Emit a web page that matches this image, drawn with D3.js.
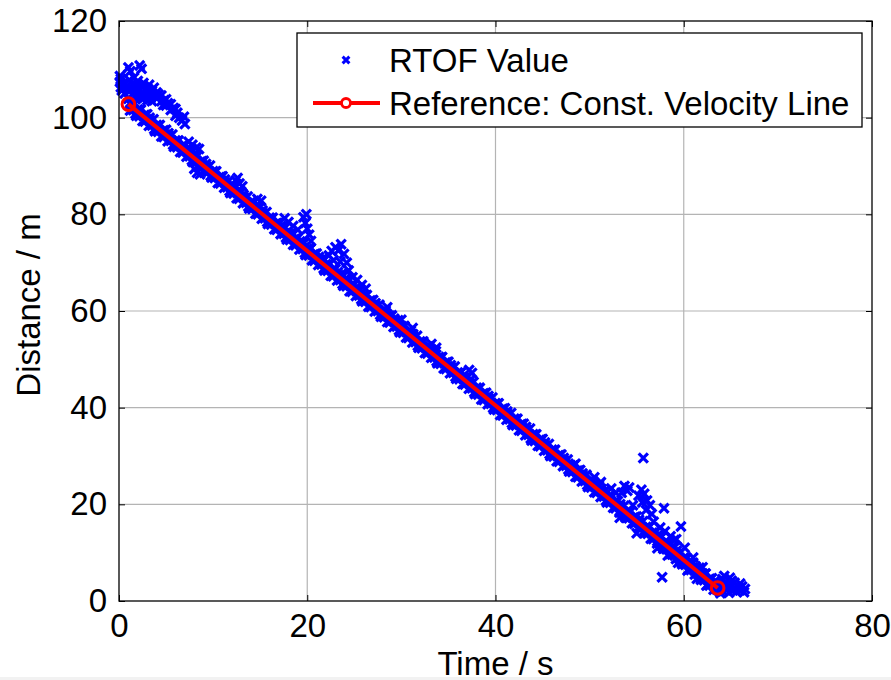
<!DOCTYPE html>
<html><head><meta charset="utf-8">
<script src="https://cdn.jsdelivr.net/npm/d3@7"></script>
<style>html,body{margin:0;padding:0;background:#fff;overflow:hidden}</style>
</head><body>
<svg id="chart" width="891" height="680"></svg>
<script>
const xTicks = [0, 20, 40, 60, 80];
const yTicks = [0, 20, 40, 60, 80, 100, 120];
const xLabel = "Time / s";
const yLabel = "Distance / m";
const legendLabels = ["RTOF Value", "Reference: Const. Velocity Line"];
const referenceLine = [[1.0, 102.8], [63.6, 2.7]];

const rtofBand = [
[1,103.9],[1.17,101.5],[1.33,102.6],[1.5,101.6],[1.67,102.9],[1.83,100.4],[2,101.7],[2.17,100.3],[2.33,101.7],[2.5,99.3],[2.67,100.5],[2.83,100.6],
[3,100.7],[3.17,98.3],[3.33,99.4],[3.5,98.4],[3.67,99.7],[3.83,97.2],[4,98.5],[4.17,97.1],[4.33,98.5],[4.5,96.1],[4.67,97.3],[4.83,97.4],
[5,97.5],[5.17,95.1],[5.33,96.2],[5.5,95.2],[5.67,96.5],[5.83,94.0],[6,95.3],[6.17,93.9],[6.33,95.3],[6.5,92.9],[6.67,94.1],[6.83,94.2],
[7,94.3],[7.17,91.9],[7.33,93.0],[7.5,92.0],[7.67,93.3],[7.83,90.8],[8,92.1],[8.17,90.7],[8.33,92.1],[8.5,89.7],[8.67,90.9],[8.83,91.0],
[9,91.1],[9.17,88.7],[9.33,89.8],[9.5,88.8],[9.67,90.1],[9.83,87.6],[10,88.9],[10.17,87.5],[10.33,88.9],[10.5,86.5],[10.67,87.7],[10.83,87.8],
[11,87.9],[11.17,85.5],[11.33,86.6],[11.5,85.6],[11.67,86.9],[11.83,84.4],[12,85.7],[12.17,84.3],[12.33,85.7],[12.5,83.3],[12.67,84.5],[12.83,84.6],
[13,84.7],[13.17,82.3],[13.33,83.4],[13.5,82.4],[13.67,83.7],[13.83,81.2],[14,82.5],[14.17,81.1],[14.33,82.5],[14.5,80.1],[14.67,81.3],[14.83,81.4],
[15,81.5],[15.17,79.1],[15.33,80.2],[15.5,79.2],[15.67,80.5],[15.83,78.0],[16,79.3],[16.17,77.9],[16.33,79.3],[16.5,76.9],[16.67,78.1],[16.83,78.2],
[17,78.3],[17.17,75.9],[17.33,77.0],[17.5,76.0],[17.67,77.3],[17.83,74.8],[18,76.1],[18.17,74.7],[18.33,76.1],[18.5,73.7],[18.67,74.9],[18.83,75.0],
[19,75.1],[19.17,72.7],[19.33,73.8],[19.5,72.8],[19.67,74.1],[19.83,71.6],[20,72.9],[20.17,71.5],[20.33,72.9],[20.5,70.5],[20.67,71.7],[20.83,71.8],
[21,71.9],[21.17,69.5],[21.33,70.6],[21.5,69.6],[21.67,70.9],[21.83,68.4],[22,69.7],[22.17,68.3],[22.33,69.7],[22.5,67.3],[22.67,68.5],[22.83,68.6],
[23,68.7],[23.17,66.3],[23.33,67.4],[23.5,66.4],[23.67,67.7],[23.83,65.2],[24,66.5],[24.17,65.1],[24.33,66.5],[24.5,64.1],[24.67,65.3],[24.83,65.4],
[25,65.5],[25.17,63.1],[25.33,64.2],[25.5,63.2],[25.67,64.5],[25.83,62.0],[26,63.3],[26.17,61.9],[26.33,63.3],[26.5,60.9],[26.67,62.1],[26.83,62.2],
[27,62.3],[27.17,59.9],[27.33,61.0],[27.5,60.0],[27.67,61.3],[27.83,58.8],[28,60.1],[28.17,58.7],[28.33,60.1],[28.5,57.7],[28.67,58.9],[28.83,59.0],
[29,59.1],[29.17,56.7],[29.33,57.8],[29.5,56.8],[29.67,58.1],[29.83,55.6],[30,56.9],[30.17,55.5],[30.33,56.9],[30.5,54.5],[30.67,55.7],[30.83,55.8],
[31,55.9],[31.17,53.5],[31.33,54.6],[31.5,53.6],[31.67,54.9],[31.83,52.4],[32,53.7],[32.17,52.3],[32.33,53.7],[32.5,51.3],[32.67,52.5],[32.83,52.6],
[33,52.7],[33.17,50.3],[33.33,51.4],[33.5,50.4],[33.67,51.7],[33.83,49.2],[34,50.5],[34.17,49.1],[34.33,50.5],[34.5,48.1],[34.67,49.3],[34.83,49.4],
[35,49.5],[35.17,47.1],[35.33,48.2],[35.5,47.2],[35.67,48.5],[35.83,46.0],[36,47.3],[36.17,45.9],[36.33,47.3],[36.5,44.9],[36.67,46.1],[36.83,46.2],
[37,46.3],[37.17,43.9],[37.33,45.0],[37.5,44.0],[37.67,45.3],[37.83,42.8],[38,44.1],[38.17,42.7],[38.33,44.1],[38.5,41.7],[38.67,42.9],[38.83,43.0],
[39,43.1],[39.17,40.7],[39.33,41.8],[39.5,40.8],[39.67,42.1],[39.83,39.6],[40,40.9],[40.17,39.5],[40.33,40.9],[40.5,38.5],[40.67,39.7],[40.83,39.8],
[41,39.9],[41.17,37.5],[41.33,38.6],[41.5,37.6],[41.67,38.9],[41.83,36.4],[42,37.7],[42.17,36.3],[42.33,37.7],[42.5,35.3],[42.67,36.5],[42.83,36.6],
[43,36.7],[43.17,34.3],[43.33,35.4],[43.5,34.4],[43.67,35.7],[43.83,33.2],[44,34.5],[44.17,33.1],[44.33,34.5],[44.5,32.1],[44.67,33.3],[44.83,33.4],
[45,33.5],[45.17,31.1],[45.33,32.2],[45.5,31.2],[45.67,32.5],[45.83,30.0],[46,31.3],[46.17,29.9],[46.33,31.3],[46.5,28.9],[46.67,30.1],[46.83,30.2],
[47,30.3],[47.17,27.9],[47.33,29.0],[47.5,28.0],[47.67,29.3],[47.83,26.8],[48,28.1],[48.17,26.7],[48.33,28.1],[48.5,25.7],[48.67,26.9],[48.83,27.0],
[49,27.1],[49.17,24.7],[49.33,25.8],[49.5,24.8],[49.67,26.1],[49.83,23.6],[50,24.9],[50.17,23.5],[50.33,24.9],[50.5,22.5],[50.67,23.7],[50.83,23.8],
[51,23.9],[51.17,21.5],[51.33,22.6],[51.5,21.6],[51.67,22.9],[51.83,20.4],[52,21.7],[52.17,20.3],[52.33,21.7],[52.5,19.3],[52.67,20.5],[52.83,20.6],
[53,20.7],[53.17,18.3],[53.33,19.4],[53.5,18.4],[53.67,19.7],[53.83,17.2],[54,18.5],[54.17,17.1],[54.33,18.5],[54.5,16.1],[54.67,17.3],[54.83,17.4],
[55,17.5],[55.17,15.1],[55.33,16.2],[55.5,15.2],[55.67,16.5],[55.83,14.0],[56,15.3],[56.17,13.9],[56.33,15.3],[56.5,12.9],[56.67,14.1],[56.83,14.2],
[57,14.3],[57.17,11.9],[57.33,13.0],[57.5,12.0],[57.67,13.3],[57.83,10.8],[58,12.1],[58.17,10.7],[58.33,12.1],[58.5,9.7],[58.67,10.9],[58.83,11.0],
[59,11.1],[59.17,8.7],[59.33,9.8],[59.5,8.8],[59.67,10.1],[59.83,7.6],[60,8.9],[60.17,7.5],[60.33,8.9],[60.5,6.5],[60.67,7.7],[60.83,7.8],
[61,7.9],[61.17,5.5],[61.33,6.6],[61.5,5.6],[61.67,6.9],[61.83,4.4],[62,5.7],[62.17,4.3],[62.33,5.7],[62.5,3.3],[62.67,4.5],[62.83,4.6],
[63,4.7],[63.17,2.3],[63.33,3.4],[63.5,2.4],[63.67,3.7],[63.83,1.9]
];

const rtofBandCore = [
[1.25,103.2],[1.75,100.8],[2.25,101.6],[2.75,99.2],[3.25,100.0],[3.75,97.6],[4.25,98.4],[4.75,96.0],[5.25,96.8],[5.75,94.4],
[6.25,95.2],[6.75,92.8],[7.25,93.6],[7.75,91.2],[8.25,92.0],[8.75,89.6],[9.25,90.4],[9.75,88.0],[10.25,88.8],[10.75,86.4],
[11.25,87.2],[11.75,84.8],[12.25,85.6],[12.75,83.2],[13.25,84.0],[13.75,81.6],[14.25,82.4],[14.75,80.0],[15.25,80.8],[15.75,78.4],
[16.25,79.2],[16.75,76.8],[17.25,77.6],[17.75,75.2],[18.25,76.0],[18.75,73.6],[19.25,74.4],[19.75,72.0],[20.25,72.8],[20.75,70.4],
[21.25,71.2],[21.75,68.8],[22.25,69.6],[22.75,67.2],[23.25,68.0],[23.75,65.6],[24.25,66.4],[24.75,64.0],[25.25,64.8],[25.75,62.4],
[26.25,63.2],[26.75,60.8],[27.25,61.6],[27.75,59.2],[28.25,60.0],[28.75,57.6],[29.25,58.4],[29.75,56.0],[30.25,56.8],[30.75,54.4],
[31.25,55.2],[31.75,52.8],[32.25,53.6],[32.75,51.2],[33.25,52.0],[33.75,49.6],[34.25,50.4],[34.75,48.0],[35.25,48.8],[35.75,46.4],
[36.25,47.2],[36.75,44.8],[37.25,45.6],[37.75,43.2],[38.25,44.0],[38.75,41.6],[39.25,42.4],[39.75,40.0],[40.25,40.8],[40.75,38.4],
[41.25,39.2],[41.75,36.8],[42.25,37.6],[42.75,35.2],[43.25,36.0],[43.75,33.6],[44.25,34.4],[44.75,32.0],[45.25,32.8],[45.75,30.4],
[46.25,31.2],[46.75,28.8],[47.25,29.6],[47.75,27.2],[48.25,28.0],[48.75,25.6],[49.25,26.4],[49.75,24.0],[50.25,24.8],[50.75,22.4],
[51.25,23.2],[51.75,20.8],[52.25,21.6],[52.75,19.2],[53.25,20.0],[53.75,17.6],[54.25,18.4],[54.75,16.0],[55.25,16.8],[55.75,14.4],
[56.25,15.2],[56.75,12.8],[57.25,13.6],[57.75,11.2],[58.25,12.0],[58.75,9.6],[59.25,10.4],[59.75,8.0],[60.25,8.8],[60.75,6.4],
[61.25,7.2],[61.75,4.8],[62.25,5.6],[62.75,3.2],[63.25,4.0]
];

const rtofTail = [
[64,3.4],[64.2,2.0],[64.4,4.0],[64.6,2.6],[64.8,1.7],[65,3.2],[65.2,2.2],[65.4,3.8],[65.6,1.9],[65.8,2.8],[66,2.2],[66.2,3.0],[66.4,1.8],
[64.1,4.5],[65.1,4.2],[63.9,1.6],[66.5,2.5],[64.3,5.2],[64.9,4.8],[65.5,2.6],[66.0,3.6],[64.6,3.4]
];

const rtofStartCluster = [
[0.1,108.6],[0.1,107.4],[0.2,106.3],[0.3,105.6],[0.2,108.0],[0.4,107.0],[1.0,110.4],[2.2,110.8],[2.4,110.1],[1.2,109.6],[0.8,106.5],
[1.5,107.0],[1.5,106.0],[1.5,105.0],[2.0,106.8],[2.0,105.5],[2.0,104.3],[2.5,106.4],[2.5,105.0],[2.5,103.8],
[3.0,106.0],[3.0,104.8],[3.0,103.6],[3.5,105.6],[3.5,104.4],[3.5,103.4],[4.0,105.2],[4.0,104.0],[4.5,104.6],[4.5,103.4],
[5.0,103.8],[5.0,102.5],[5.5,102.8],[5.5,101.6],[6.0,101.8],[6.0,100.4],
[1.8,106.5],[2.2,105.8],[2.8,105.6],[3.2,105.2],[3.8,104.6],[4.2,104.8],[4.8,103.6],[5.2,103.0],[5.8,102.0],[6.2,101.0],
[1.3,105.8],[1.7,104.4],[2.3,104.8],[2.7,104.2],[3.3,103.9],[4.7,102.6],[6.4,100.0],[0.6,105.0],[1.0,105.5],
[1.1,107.8],[1.6,108.3],[2.0,107.6],[2.6,107.2],[3.2,106.8],[3.7,106.2]
];

const rtofOutliers = [
[6.7,99.4],[7.0,98.7],[6.9,100.2],[7.4,95.0],[7.8,94.4],[8.2,93.8],[8.5,93.5],[8.0,89.4],[8.3,88.6],[8.6,88.3],
[12.4,87.0],[12.8,86.4],[13.1,85.8],[12.6,87.5],[14.7,83.2],[15.1,82.8],
[17.6,79.2],[18.0,78.4],[18.5,77.6],[19.0,76.8],[19.6,79.4],[19.8,78.2],[20.0,77.0],[20.2,75.8],[19.9,80.0],[20.4,74.5],
[22.3,71.5],[22.6,72.4],[23.0,73.2],[23.3,72.5],[23.6,73.8],[23.9,71.8],[24.2,70.0],[22.8,70.5],[23.5,70.2],[24.4,68.4],
[24.8,67.0],[25.3,66.4],[25.8,65.4],[26.2,64.6],[28.5,60.8],[30.0,58.2],[31.2,56.5],[33.2,53.2],[33.7,52.4],[37.2,47.8],[37.5,47.2],
[55.7,29.6],[53.7,23.8],[54.0,22.8],[54.2,23.5],[53.4,22.4],
[55.2,21.8],[55.5,23.0],[55.8,22.2],[56.1,20.8],[56.4,19.8],[55.6,20.4],[56.0,18.8],[56.6,18.0],
[57.9,19.2],[59.7,15.4],[57.7,4.9],
[52.3,23.3],[52.8,22.4],[53.2,17.2],[54.6,19.8],[55.0,14.0],[56.8,16.4],[57.2,10.9],[57.5,15.2],[58.0,14.4],[58.3,9.4],
[58.6,13.4],[59.0,12.6],[59.4,7.9],[59.2,12.8],[60.1,11.0],[60.4,6.3],[61.0,9.0],[61.4,4.6],[62.0,7.0],[62.4,3.2],
[50.5,25.6],[51.2,24.6],[48.5,28.4]
];

const rtofPoints = [].concat(rtofStartCluster, rtofBand, rtofBandCore, rtofOutliers, rtofTail);

const FONT = "'Liberation Sans', Arial, Helvetica, sans-serif";
const FS = 33;
const svg = d3.select("#chart");
const W = 891, H = 680;
svg.append("rect").attr("width", W).attr("height", H).attr("fill", "#fff");
svg.append("rect").attr("x", 0).attr("y", 677).attr("width", W).attr("height", 3).attr("fill", "#f2f2f2");

const x = d3.scaleLinear().domain([0, 80]).range([119, 872]);
const y = d3.scaleLinear().domain([0, 120]).range([601, 21]);

// grid
const grid = svg.append("g").attr("stroke", "#b4b4b4").attr("stroke-width", 1.2);
xTicks.slice(1, -1).forEach(v => grid.append("line").attr("x1", x(v)).attr("x2", x(v)).attr("y1", y(0)).attr("y2", y(120)));
yTicks.slice(1, -1).forEach(v => grid.append("line").attr("x1", x(0)).attr("x2", x(80)).attr("y1", y(v)).attr("y2", y(v)));

// scatter
const r = 4.6;
svg.append("g").selectAll("path").data(rtofPoints).join("path")
  .attr("d", d => { const px = x(d[0]), py = y(d[1]);
    return `M${px-r},${py-r}L${px+r},${py+r}M${px-r},${py+r}L${px+r},${py-r}`; })
  .attr("stroke", "#0000ff").attr("stroke-width", 3.2).attr("fill", "none");

// reference line
svg.append("path").datum(referenceLine)
  .attr("d", d3.line().x(d => x(d[0])).y(d => y(d[1])))
  .attr("stroke", "#ff0000").attr("stroke-width", 4).attr("fill", "none");
svg.append("g").selectAll("circle").data(referenceLine).join("circle")
  .attr("cx", d => x(d[0])).attr("cy", d => y(d[1])).attr("r", 6.3)
  .attr("fill", "none").attr("stroke", "#ff0000").attr("stroke-width", 3);

// axes
function styleAxis(g) {
  g.select(".domain").remove();
  g.selectAll(".tick line").attr("stroke", "#000").attr("stroke-width", 1);
  g.selectAll(".tick text").attr("fill", "#000").attr("font-family", FONT).attr("font-size", FS);
}
svg.append("g").attr("transform", `translate(0,${y(0)})`)
  .call(d3.axisBottom(x).tickValues(xTicks).tickSizeInner(-6).tickSizeOuter(0).tickPadding(13).tickFormat(d3.format("d")))
  .call(styleAxis);
svg.append("g").attr("transform", `translate(0,${y(120)})`)
  .call(d3.axisTop(x).tickValues(xTicks).tickSizeInner(-6).tickSizeOuter(0).tickFormat(""))
  .call(styleAxis);
svg.append("g").attr("transform", `translate(${x(0)},0)`)
  .call(d3.axisLeft(y).tickValues(yTicks).tickSizeInner(-6).tickSizeOuter(0).tickPadding(12).tickFormat(d3.format("d")))
  .call(styleAxis);
svg.append("g").attr("transform", `translate(${x(80)},0)`)
  .call(d3.axisRight(y).tickValues(yTicks).tickSizeInner(-6).tickSizeOuter(0).tickFormat(""))
  .call(styleAxis);

// box
svg.append("rect").attr("x", x(0)).attr("y", y(120)).attr("width", x(80) - x(0)).attr("height", y(0) - y(120))
  .attr("fill", "none").attr("stroke", "#000").attr("stroke-width", 1.3);

// axis labels
svg.append("text").attr("x", (x(0) + x(80)) / 2).attr("y", 675).attr("text-anchor", "middle")
  .attr("font-family", FONT).attr("font-size", FS).text(xLabel);
svg.append("text").attr("transform", `translate(40,305) rotate(-90)`).attr("text-anchor", "middle")
  .attr("font-family", FONT).attr("font-size", FS).text(yLabel);

// legend
const lg = svg.append("g");
lg.append("rect").attr("x", 297).attr("y", 33).attr("width", 565).attr("height", 94)
  .attr("fill", "#fff").attr("stroke", "#000").attr("stroke-width", 1.3);
const lr = 3.4;
lg.append("path").attr("d", `M${346-lr},${60-lr}L${346+lr},${60+lr}M${346-lr},${60+lr}L${346+lr},${60-lr}`)
  .attr("stroke", "#0000ff").attr("stroke-width", 3);
lg.append("line").attr("x1", 313).attr("x2", 380).attr("y1", 103).attr("y2", 103).attr("stroke", "#ff0000").attr("stroke-width", 4);
lg.append("circle").attr("cx", 346).attr("cy", 103).attr("r", 4.5).attr("fill", "#fff").attr("stroke", "#ff0000").attr("stroke-width", 2.8);
legendLabels.forEach((t, i) => lg.append("text").attr("x", 389).attr("y", [60, 103][i]).attr("dy", "0.35em")
  .attr("font-family", FONT).attr("font-size", FS).text(t));
</script>
</body></html>
